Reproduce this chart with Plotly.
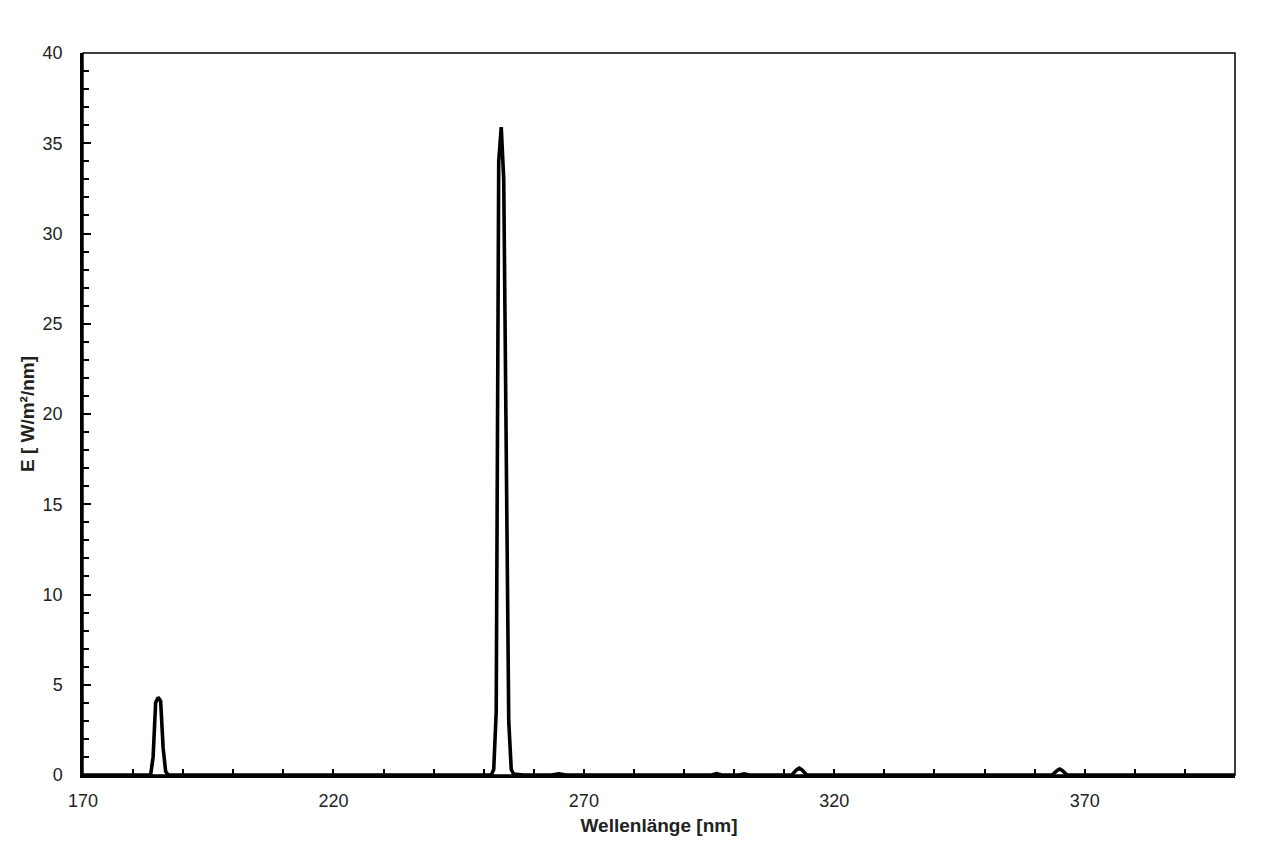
import plotly.graph_objects as go

# wavelength in nm and irradiance E in W/m²/nm
wavelength = [170, 180, 183.5, 184, 184.5, 185, 185.5, 186, 186.5, 187, 190,
              220, 250, 251.5, 252, 252.5, 253, 253.5, 254, 254.5, 255, 255.5, 256, 258,
              263.5, 265, 266.5, 280, 295.5, 296.5, 297.5, 301, 302, 303,
              311.5, 312.5, 313, 313.5, 314.5, 320, 333, 334, 335,
              363.5, 364.5, 365, 365.5, 366.5, 380, 400]
irradiance = [0, 0, 0, 1.0, 4.0, 4.3, 4.1, 1.5, 0.2, 0, 0,
              0, 0, 0, 0.3, 3.5, 34.0, 35.9, 33.0, 18.0, 3.0, 0.3, 0.05, 0,
              0, 0.06, 0, 0, 0, 0.08, 0, 0, 0.06, 0,
              0, 0.3, 0.38, 0.3, 0, 0, 0, 0.03, 0,
              0, 0.25, 0.33, 0.25, 0, 0, 0]

fig = go.Figure()
fig.add_trace(go.Scatter(x=wavelength, y=irradiance, mode="lines",
                         line=dict(color="black", width=3.6), showlegend=False))

# page body adds 8px, so margins are shifted by that
fig.update_layout(
    width=1280, height=858,
    margin=dict(l=75, r=53, t=45, b=91),
    plot_bgcolor="white", paper_bgcolor="white",
    font=dict(family="Liberation Sans, Arial", size=18, color="#222"),
)
fig.update_xaxes(
    range=[170, 400], tick0=170, dtick=50,
    ticks="inside", ticklen=6, tickwidth=1.5, tickcolor="black",
    minor=dict(dtick=10, ticks="inside", ticklen=6, tickwidth=1.5, tickcolor="black"),
    showgrid=False, zeroline=False, ticklabelstandoff=8,
    showline=True, linecolor="black", linewidth=2.5,
    title=dict(text="<b>Wellenlänge [nm]</b>", font=dict(size=19), standoff=9),
)
fig.update_yaxes(
    range=[0, 40], dtick=5,
    ticks="inside", ticklen=8, tickwidth=1.5, tickcolor="black",
    minor=dict(dtick=1, ticks="inside", ticklen=6, tickwidth=1.5, tickcolor="black"),
    showgrid=False, zeroline=False, ticklabelstandoff=14,
    showline=True, linecolor="black", linewidth=2.5,
    title=dict(text="<b>E [ W/m²/nm]</b>", font=dict(size=19), standoff=3),
)
fig.add_shape(type="rect", xref="paper", yref="paper", x0=0, y0=0, x1=1, y1=1,
              line=dict(color="black", width=1.5), layer="below")

fig.write_html("out.html")
